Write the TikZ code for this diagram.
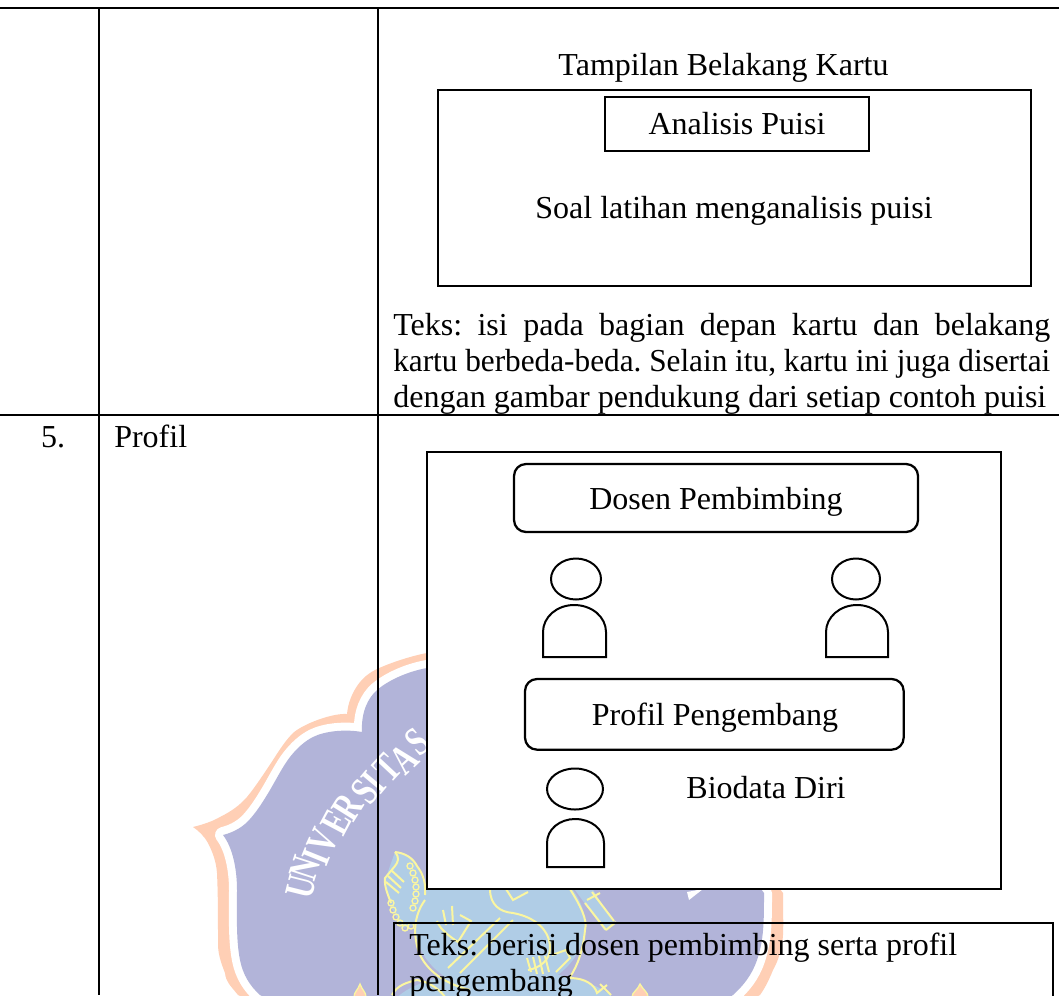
\documentclass[tikz,border=0pt]{standalone}
\usepackage{graphicx}
\usepackage{fontspec}
\setmainfont{Liberation Serif}
\definecolor{wmor}{HTML}{FFCFB5}
\definecolor{wmlav}{HTML}{B2B4D9}
\definecolor{wmblue}{HTML}{B0CDE6}
\definecolor{wmyel}{HTML}{FBF6A0}
\tikzset{
  rule/.style={draw=black,line width=1.9pt},
  thinbox/.style={draw=black,line width=1.7pt,outer sep=0pt},
  txt/.style={inner sep=0pt,font=\fontsize{24}{29}\selectfont\frenchspacing},
  person/.style={draw=black,line width=1.5pt,fill=white},
  wmletter/.style={inner sep=0pt,text=white,font=\bfseries\fontsize{31}{33}\selectfont},
  wmline/.style={draw=wmyel,line width=1.5pt},
}
\def\shieldoutline{(223,835) .. controls (235,832) and (244,826) .. (250,819) .. controls (258,810) and (264,800) .. (270,790) .. controls (277,778) and (283,766) .. (290,757) .. controls (297,748) and (305,741) .. (313,737) .. controls (325,731) and (345,729) .. (362,732) .. controls (361,712) and (368,698) .. (377,690) .. controls (390,679) and (410,671) .. (427,668) -- (600,668) -- (764,893) .. controls (764,920) and (764,940) .. (757,960) .. controls (752,975) and (743,986) .. (733,995) -- (700,1015) -- (300,1015) -- (260,995) .. controls (250,986) and (243,975) .. (240,960) .. controls (236,940) and (237,915) .. (237,890) .. controls (237,870) and (233,848) .. (223,835) -- cycle}
\begin{document}
\begin{tikzpicture}[x=0.75pt,y=-0.75pt]
\useasboundingbox (0,0) rectangle (1059,995);
\fill[white] (0,0) rectangle (1059,995);
% watermark
\begin{scope}
\clip (0,0) rectangle (1059,995);
\fill[wmor] (193,827) .. controls (205,824) and (213,821) .. (220,817) .. controls (232,811) and (240,805) .. (247,797) .. controls (256,786) and (265,772) .. (273,760) .. controls (280,749) and (286,740) .. (293,733) .. controls (303,724) and (332,713) .. (347,714) .. controls (348,705) and (350,699) .. (353,693) .. controls (358,683) and (364,677) .. (370,673) .. controls (380,666) and (410,656) .. (427,653) -- (600,653) -- (783,893) .. controls (783,915) and (784,935) .. (782,943) .. controls (780,955) and (777,963) .. (773,970) .. controls (769,980) and (765,988) .. (760,995) -- (700,1025) -- (300,1025) -- (238,995) .. controls (230,985) and (226,982) .. (225,973) .. controls (218,955) and (218,950) .. (218,940) .. controls (218,915) and (218,895) .. (217,873) .. controls (216,860) and (212,851) .. (208,843) .. controls (204,836) and (199,831) .. (193,827) -- cycle;
\draw[white,line width=12pt,line join=round] \shieldoutline;
\fill[wmlav] \shieldoutline;
% university name
\foreach \l/\x/\y/\a/\n in {U/301/887/76/a,N/305/868/72/b,I/316/857/68/c,V/323/841/65/d,E/336/822/62/e,R/348/807/58/f,S/365/792/53/g,I/374/782/50/h,T/387/768/47/i,A/404/759/43/j,S/417/742/40/k}
  \node[wmletter,rotate=\a] (w\n) at (\x,\y) {\scalebox{0.72}[1]{\l}};
% emblem body
\fill[wmblue] (500,925) ellipse[x radius=85,y radius=68];
\fill[wmblue] (505,1012) ellipse[x radius=115,y radius=42];
\fill[wmblue] (395,852) .. controls (405,853) and (413,858) .. (417,866) -- (430,895) -- (417,925) -- (402,928) -- (390,905) -- (385,880) -- cycle;
\fill[wmblue] (587,880) -- (615,925) -- (604,930) -- (575,890) -- cycle;
\fill[white] (687,892) -- (703,889) -- (689,900) -- cycle;
% flames
\fill[wmor,draw=wmyel,line width=1pt] (360,984) .. controls (362,990) and (366,992) .. (366,997) -- (354,997) .. controls (354,992) and (358,990) .. (360,984) -- cycle;
\fill[wmor,draw=wmyel,line width=1pt] (640,984) .. controls (643,990) and (648,992) .. (648,997) -- (632,997) .. controls (632,992) and (638,990) .. (640,984) -- cycle;
% emblem outlines
\begin{scope}[wmline]
\draw (395,852) .. controls (405,853) and (413,858) .. (417,866) .. controls (424,875) and (426,885) .. (425,895);
\draw (395,852) .. controls (400,858) and (398,862) .. (395,866) -- (385,878) .. controls (384,886) and (388,895) .. (391,903);
\draw (391,870) -- (404,882) (388,876) -- (401,888) (386,882) -- (399,893);
\draw (425,900) .. controls (414,915) and (412,935) .. (420,955) .. controls (430,975) and (450,985) .. (470,990);
\draw (443,910) -- (446,925) (452,906) -- (453,925) (437,921) .. controls (440,930) and (452,938) .. (458,942) -- (471,921) -- (460,915);
\draw (513,920) -- (460,973) (500,918) -- (448,968);
\draw (490,889) .. controls (490,905) and (500,912) .. (513,913) .. controls (535,917) and (550,930) .. (550,948) .. controls (550,960) and (540,968) .. (528,970);
\draw (506,889) -- (513,900) -- (528,892);
\draw (570,889) .. controls (580,905) and (588,920) .. (585,930) .. controls (583,950) and (578,965) .. (570,977);
\draw (587,900) -- (600,893) (592,892) -- (614,921) (585,903) -- (606,930) (606,930) -- (616,922);
\draw (527,958) -- (531,972) (533,957) -- (537,974) (539,956) -- (543,974) (545,956) -- (549,972);
\draw (552,955) -- (566,950) -- (570,958) -- (556,972);
\draw (392,995) .. controls (397,985) and (408,982) .. (417,980) .. controls (430,982) and (440,990) .. (445,997);
\draw (570,978) .. controls (585,978) and (595,985) .. (597,993) -- (607,985) (600,984) -- (611,995);
\foreach \px/\py in {410/866,413/873,415/880,416/887,416/894,415/901,413/908,391/903,393/910,396/917,400/923,405/928,411/926}
  \draw[line width=1pt] (\px,\py) circle[radius=3];
\end{scope}
\end{scope}
% table rules
\coordinate (ttl) at (0,8);\coordinate (ttr) at (1059,8);
\draw[rule] (ttl) -- (ttr);
\coordinate (mil) at (0,415);\coordinate (mir) at (1059,415);
\draw[rule] (mil) -- (mir);
\coordinate (la) at (99,8);\coordinate (lb) at (99,995);
\draw[rule] (la) -- (lb);
\coordinate (ra) at (378,8);\coordinate (rb) at (378,995);
\draw[rule] (ra) -- (rb);
% upper part
\node[txt,anchor=base] (t1) at (723.5,76) {Tampilan Belakang Kartu};
\node[thinbox,minimum width=444.75pt,minimum height=147pt,anchor=north west] (card) at (438,90) {};
\node[thinbox,minimum width=198pt,minimum height=40.5pt,anchor=north west] (ap) at (605,97) {};
\node[txt,anchor=base] (apt) at (737,135) {Analisis Puisi};
\node[txt,anchor=base] (soal) at (734,218) {Soal latihan menganalisis puisi};
\node[txt,anchor=base west] (p1) at (393,335) {\makebox[492.75pt][s]{Teks: isi pada bagian depan kartu dan belakang}};
\node[txt,anchor=base west] (p2) at (393,371) {\resizebox{492.75pt}{\height}{kartu berbeda-beda. Selain itu, kartu ini juga disertai}};
\node[txt,anchor=base west] (p3) at (393,407) {\resizebox{489.75pt}{\height}{dengan gambar pendukung dari setiap contoh puisi}};
% row 5
\node[txt,anchor=base] (no) at (53,447) {5.};
\node[txt,anchor=base west] (pr) at (114,447) {Profil};
\node[thinbox,fill=white,minimum width=430.5pt,minimum height=327.75pt,anchor=north west] (prof) at (427,452) {};
\node[thinbox,rounded corners=9pt,minimum width=303pt,minimum height=51pt,anchor=north west] (dp) at (514,464) {};
\node[txt,anchor=base] (dpt) at (716,509) {Dosen Pembimbing};
\node[thinbox,rounded corners=9pt,minimum width=284pt,minimum height=53pt,anchor=north west] (pp) at (525,679) {};
\node[txt,anchor=base] (ppt) at (715,725) {Profil Pengembang};
\node[txt,anchor=base] (bd) at (766,798) {Biodata Diri};
% people
\draw[person] (576,579) ellipse[x radius=25,y radius=20.5];
\draw[person] (543,657) -- (543,632) .. controls (543,617) and (557,605) .. (574,605) .. controls (592,605) and (606,617) .. (606,632) -- (606,657) -- cycle;
\draw[person] (856,579) ellipse[x radius=24,y radius=20.5];
\draw[person] (826,657) -- (826,632) .. controls (826,617) and (840,605) .. (857,605) .. controls (874,605) and (888,617) .. (888,632) -- (888,657) -- cycle;
\draw[person] (575,789) ellipse[x radius=28,y radius=20.5];
\draw[person] (547,867) -- (547,843) .. controls (547,829) and (560,819) .. (575,819) .. controls (591,819) and (604,829) .. (604,843) -- (604,867) -- cycle;
% bottom box
\coordinate (bbl) at (394,1010);\coordinate (bbt) at (394,923);\coordinate (bbr) at (1053,923);\coordinate (bbe) at (1053,1010);
\draw[thinbox] (bbl) -- (bbt) -- (bbr) -- (bbe);
\node[txt,anchor=base west] (b1) at (409,955) {Teks: berisi dosen pembimbing serta profil};
\node[txt,anchor=base west] (b2) at (409,991) {pengembang};
\end{tikzpicture}
\end{document}
